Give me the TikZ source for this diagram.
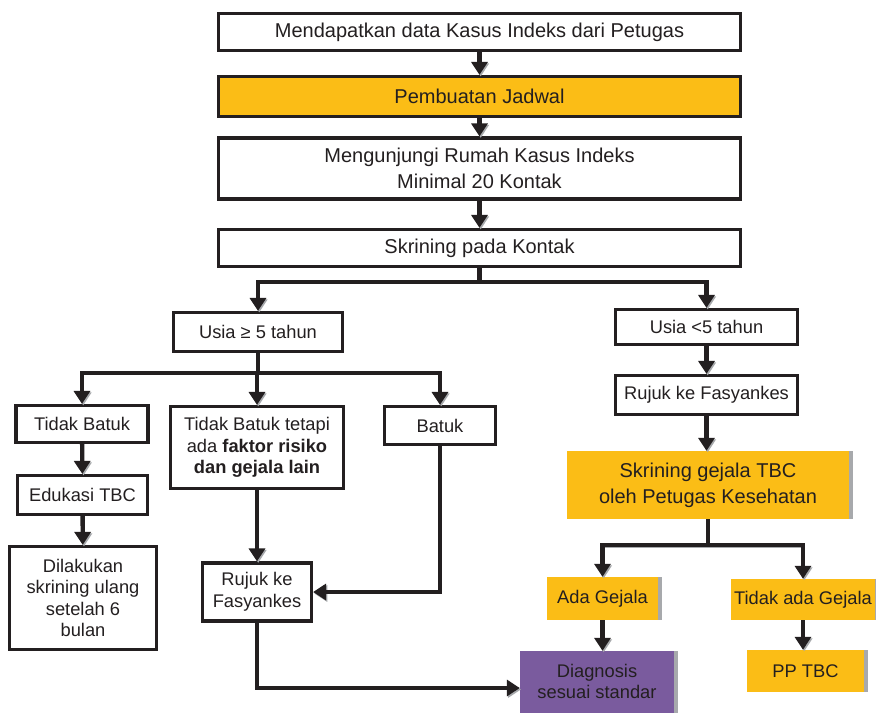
\documentclass[tikz,border=0pt]{standalone}
\usepackage{fontspec}
\setmainfont{Liberation Sans}
\usetikzlibrary{arrows.meta}
\definecolor{txt}{HTML}{231F20}
\definecolor{orng}{HTML}{FBBD16}
\definecolor{purp}{HTML}{7A5B9E}
\definecolor{shd}{HTML}{A7A9AC}
\tikzset{
  box/.style={draw=txt, line width=3.2pt, fill=white, rectangle, inner sep=0pt, align=center, text=txt},
  big/.style={font=\fontsize{20}{26}\selectfont},
  small/.style={font=\fontsize{18.3}{21.5}\selectfont},
  obox/.style={fill=orng, rectangle, inner sep=0pt, align=center, text=txt},
  pbox/.style={fill=purp, rectangle, inner sep=0pt, align=center, text=txt},
  conn/.style={draw=txt, line width=4.3pt, -{Triangle[width=16pt,length=13pt]},
    preaction={draw=shd, transform canvas={shift={(1.2pt,-1.5pt)}}}},
}
\begin{document}
\begin{tikzpicture}[x=1pt,y=-1pt]
\useasboundingbox[fill=white] (0,0) rectangle (876,713);

% connectors first (behind boxes)
\coordinate (dummy) at (0,0);

% top column
\node[box,big,minimum width=522pt,minimum height=37pt] (b1) at (479.5,32) {Mendapatkan data Kasus Indeks dari Petugas};
\node[box,big,fill=orng,minimum width=522pt,minimum height=40pt] (b2) at (479.5,96.5) {Pembuatan Jadwal};
\node[box,big,minimum width=522pt,minimum height=61pt] (b3) at (479.5,168.5) {Mengunjungi Rumah Kasus Indeks\\Minimal 20 Kontak};
\node[box,big,minimum width=522pt,minimum height=37pt] (b4) at (479.5,248) {Skrining pada Kontak};

% left branch
\node[box,small,minimum width=169pt,minimum height=39pt] (u5) at (258,332) {Usia ≥ 5 tahun};
\node[box,small,minimum width=132pt,minimum height=37pt] (tb) at (82,424) {Tidak Batuk};
\node[box,small,minimum width=173pt,minimum height=82pt] (tbt) at (257,447.5) {Tidak Batuk tetapi\\ ada \textbf{faktor risiko}\\ \textbf{dan gejala lain}};
\node[box,small,minimum width=111pt,minimum height=38pt] (bt) at (440,425.5) {Batuk};
\node[box,small,minimum width=130pt,minimum height=39pt] (edu) at (82.5,495) {Edukasi TBC};
\node[box,small,minimum width=147pt,minimum height=103pt] (dil) at (83,598) {Dilakukan\\skrining ulang\\setelah 6\\bulan};
\node[box,small,minimum width=109pt,minimum height=58pt] (rl) at (257,592) {Rujuk ke\\Fasyankes};

% right branch
\node[box,small,minimum width=182pt,minimum height=35pt] (ul5) at (706.5,327) {Usia <5 tahun};
\node[box,small,minimum width=182pt,minimum height=39pt] (rr) at (706.5,395) {Rujuk ke Fasyankes};
\node[obox,big,minimum width=282pt,minimum height=68pt] (sg) at (708,485) {Skrining gejala TBC\\oleh Petugas Kesehatan};
\node[obox,small,minimum width=111pt,minimum height=43pt] (ada) at (602.5,598.5) {\raisebox{2pt}{Ada Gejala}};
\node[obox,small,minimum width=144pt,minimum height=41pt] (tad) at (803,599.5) {Tidak ada Gejala};
\node[obox,small,minimum width=117pt,minimum height=42pt] (pp) at (805.5,671) {PP TBC};
\node[pbox,small,minimum width=154pt,minimum height=62pt] (dg) at (597,682) {\raisebox{2pt}{\shortstack{Diagnosis\\[1pt]sesuai standar}}};

% shadow strips
\foreach \n in {sg,ada,tad,pp,dg}{
  \fill[shd] (\n.north east) rectangle ([xshift=4pt]\n.south east);
}

% connectors
\draw[conn] (b1) -- (b2);
\draw[conn] (b2) -- (b3);
\draw[conn] (b3) -- (b4);
\draw[conn] (b4.south) -- ++(0,14) -| (u5.north);
\draw[conn] (b4.south) -- ++(0,14) -| (ul5.north);

\draw[conn] (u5.south) -- ++(0,20) -| (tb.north);
\draw[conn] (u5.south) -- ++(0,20) -| (tbt.north);
\draw[conn] (u5.south) -- ++(0,20) -| (bt.north);
\draw[conn] (tb) -- (edu);
\draw[conn] (edu) -- (dil);
\draw[conn] (tbt) -- (rl);
\draw[conn] (bt.south) |- (rl.east);
\draw[conn] (rl.south) |- ([yshift=-6pt]dg.west);

\draw[conn] (ul5) -- (rr);
\draw[conn] (rr.south) -- (rr.south |- sg.north);
\draw[conn] (sg.south) -- ++(0,26) -| (ada.north);
\draw[conn] (sg.south) -- ++(0,26) -| (tad.north);
\draw[conn] (ada.south) -- (ada.south |- dg.north);
\draw[conn] (tad.south) -- (tad.south |- pp.north);
\end{tikzpicture}
\end{document}
